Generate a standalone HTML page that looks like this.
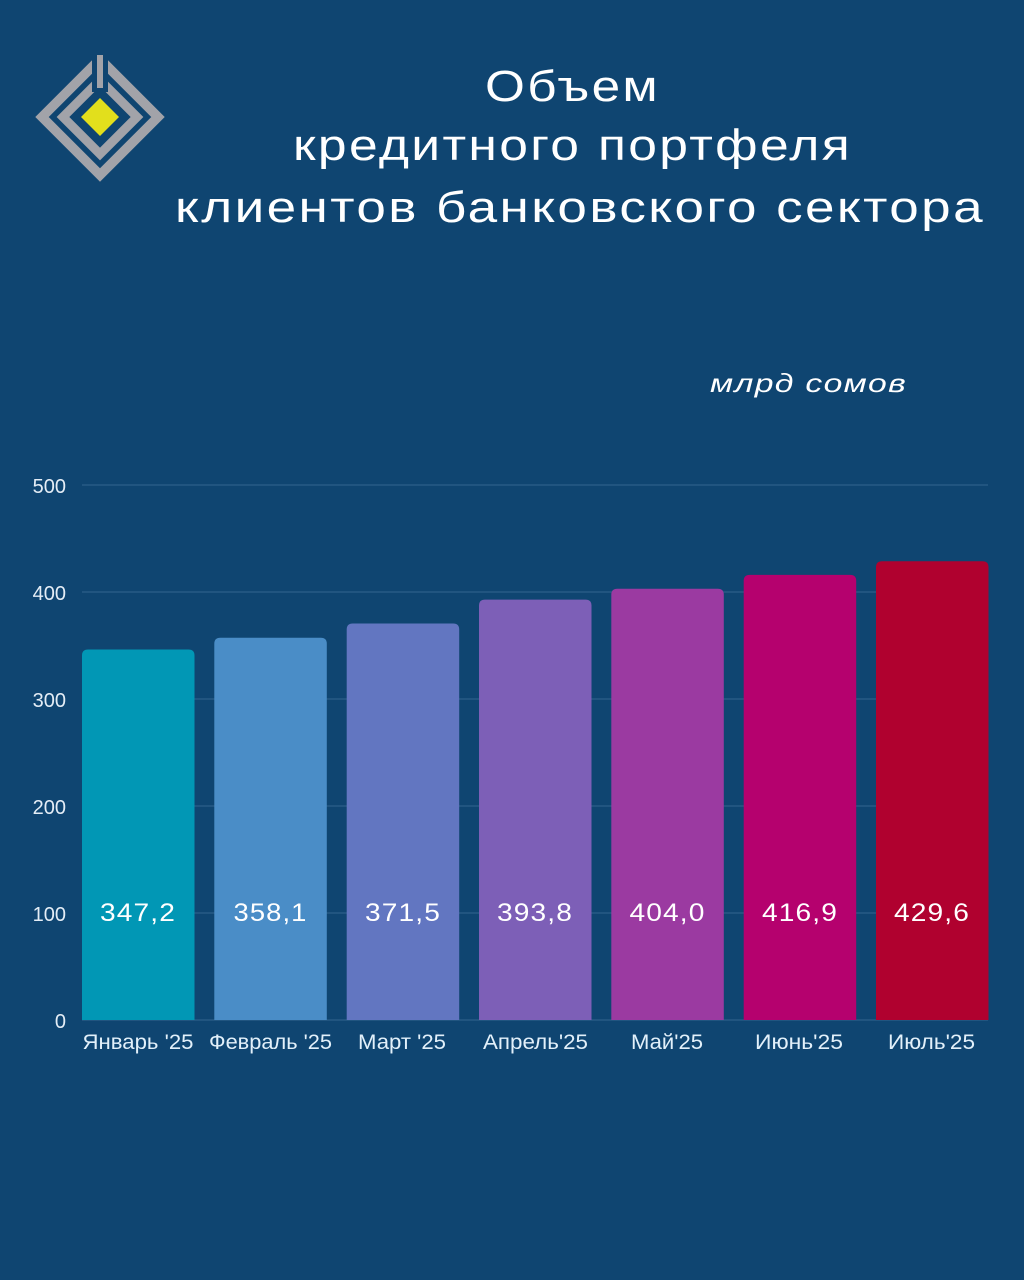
<!DOCTYPE html>
<html><head><meta charset="utf-8"><style>
html,body{margin:0;padding:0;background:#0f4571;}
svg{display:block;}
</style></head><body>
<svg width="1024" height="1280" viewBox="0 0 1024 1280" xmlns="http://www.w3.org/2000/svg">
<rect x="0" y="0" width="1024" height="1280" fill="#0f4571"/>
<!-- logo -->
<g>
<polygon points="100,59 158,117 100,175 42,117" fill="none" stroke="#a2a3a9" stroke-width="9.5"/>
<polygon points="100,80 137,117 100,154 63,117" fill="none" stroke="#a2a3a9" stroke-width="9"/>
<rect x="92" y="48" width="16" height="44" fill="#0f4571"/>
<rect x="97" y="55" width="6" height="33" fill="#a2a3a9"/>
<polygon points="100,98 119,117 100,136 81,117" fill="#e2df1c"/>
</g>
<!-- title -->
<g font-family="'Liberation Sans', sans-serif" font-size="44" fill="#ffffff" letter-spacing="2">
<text x="485" y="101" textLength="175" lengthAdjust="spacingAndGlyphs">Объем</text>
<text x="293" y="160" textLength="559" lengthAdjust="spacingAndGlyphs">кредитного портфеля</text>
<text x="175" y="222" textLength="810" lengthAdjust="spacingAndGlyphs">клиентов банковского сектора</text>
</g>
<text x="710" y="392" textLength="197" lengthAdjust="spacingAndGlyphs" font-family="'Liberation Sans', sans-serif" font-style="italic" font-size="26" letter-spacing="1" fill="#ffffff">млрд сомов</text>
<!-- gridlines -->
<g stroke="#2c5f8a" stroke-width="1.2">
<line x1="82" y1="485" x2="988" y2="485"/>
<line x1="82" y1="592" x2="988" y2="592"/>
<line x1="82" y1="699" x2="988" y2="699"/>
<line x1="82" y1="806" x2="988" y2="806"/>
<line x1="82" y1="913" x2="988" y2="913"/>
<line x1="82" y1="1020" x2="988" y2="1020"/>
</g>
<!-- y labels -->
<g font-family="'Liberation Sans', sans-serif" font-size="20" fill="#e4edf6" text-anchor="end">
<text x="66" y="493">500</text>
<text x="66" y="600">400</text>
<text x="66" y="707">300</text>
<text x="66" y="814">200</text>
<text x="66" y="921">100</text>
<text x="66" y="1028">0</text>
</g>
<!-- bars -->
<g>
<path d="M82,1020 V655.5 Q82,649.5 88,649.5 H188.5 Q194.5,649.5 194.5,655.5 V1020 Z" fill="#0197b5"/>
<path d="M214.3,1020 V643.8 Q214.3,637.8 220.3,637.8 H320.8 Q326.8,637.8 326.8,643.8 V1020 Z" fill="#4a8dc7"/>
<path d="M346.7,1020 V629.5 Q346.7,623.5 352.7,623.5 H453.2 Q459.2,623.5 459.2,629.5 V1020 Z" fill="#6276c1"/>
<path d="M479,1020 V605.6 Q479,599.6 485,599.6 H585.5 Q591.5,599.6 591.5,605.6 V1020 Z" fill="#7d5fb7"/>
<path d="M611.3,1020 V594.7 Q611.3,588.7 617.3,588.7 H717.8 Q723.8,588.7 723.8,594.7 V1020 Z" fill="#9b3aa1"/>
<path d="M743.7,1020 V580.9 Q743.7,574.9 749.7,574.9 H850.2 Q856.2,574.9 856.2,580.9 V1020 Z" fill="#b5016e"/>
<path d="M876,1020 V567.3 Q876,561.3 882,561.3 H982.5 Q988.5,561.3 988.5,567.3 V1020 Z" fill="#b0012f"/>
</g>
<!-- value labels -->
<g font-family="'Liberation Sans', sans-serif" font-size="25" fill="#ffffff" text-anchor="middle" letter-spacing="1">
<text x="138" y="921" textLength="76" lengthAdjust="spacingAndGlyphs">347,2</text>
<text x="270.5" y="921" textLength="74" lengthAdjust="spacingAndGlyphs">358,1</text>
<text x="403" y="921" textLength="76" lengthAdjust="spacingAndGlyphs">371,5</text>
<text x="535" y="921" textLength="76" lengthAdjust="spacingAndGlyphs">393,8</text>
<text x="667.5" y="921" textLength="76" lengthAdjust="spacingAndGlyphs">404,0</text>
<text x="800" y="921" textLength="76" lengthAdjust="spacingAndGlyphs">416,9</text>
<text x="932" y="921" textLength="76" lengthAdjust="spacingAndGlyphs">429,6</text>
</g>
<!-- category labels -->
<g font-family="'Liberation Sans', sans-serif" font-size="21" fill="#e2f0fa" text-anchor="middle">
<text x="138" y="1049" textLength="111" lengthAdjust="spacingAndGlyphs">Январь '25</text>
<text x="270.5" y="1049" textLength="123" lengthAdjust="spacingAndGlyphs">Февраль '25</text>
<text x="402" y="1049" textLength="88" lengthAdjust="spacingAndGlyphs">Март '25</text>
<text x="535.5" y="1049" textLength="105" lengthAdjust="spacingAndGlyphs">Апрель'25</text>
<text x="667" y="1049" textLength="72" lengthAdjust="spacingAndGlyphs">Май'25</text>
<text x="799" y="1049" textLength="88" lengthAdjust="spacingAndGlyphs">Июнь'25</text>
<text x="931.5" y="1049" textLength="87" lengthAdjust="spacingAndGlyphs">Июль'25</text>
</g>
</svg>
</body></html>
